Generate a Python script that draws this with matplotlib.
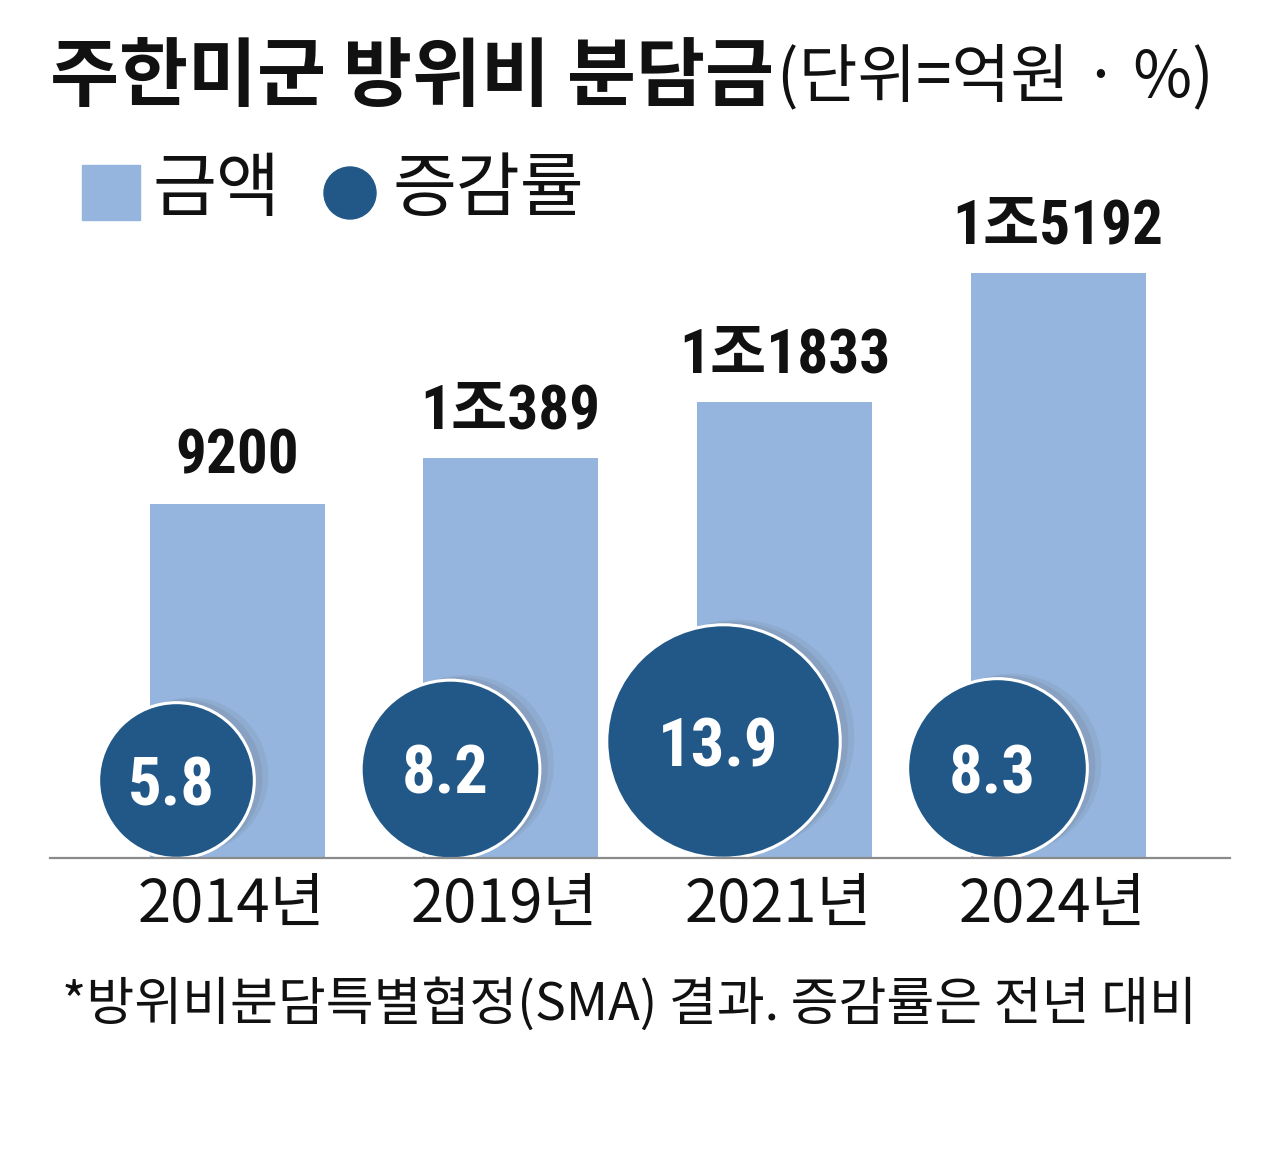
import matplotlib
matplotlib.use("Agg")
import matplotlib.pyplot as plt
from matplotlib import font_manager as fm
from matplotlib.patches import Rectangle, Circle
from matplotlib.transforms import offset_copy

plt.rcParams['font.family'] = ['Noto Sans CJK KR', 'DejaVu Sans']
_names = {f.name for f in fm.fontManager.ttflist}
NUM_FAMILY = (['Roboto Condensed', 'Noto Sans CJK KR']
              if 'Roboto Condensed' in _names else ['Noto Sans CJK KR', 'DejaVu Sans'])
NUM_SCALE = 1.0 if 'Roboto Condensed' in _names else 0.85

years = ["2014년", "2019년", "2021년", "2024년"]
amounts = [9200, 10389, 11833, 15192]
amount_labels = ["9200", "1조389", "1조1833", "1조5192"]
rates = [5.8, 8.2, 13.9, 8.3]

BAR = "#95b5df"
DARK = "#225888"
INK = "#111111"

W, H = 1280, 1154
fig = plt.figure(figsize=(W / 100, H / 100), dpi=100)
fig.patch.set_facecolor("white")

ax_left, ax_right, ax_bottom_px, ax_top_px = 50, 1230, 858, 200
ax = fig.add_axes([ax_left / W, (H - ax_bottom_px) / H,
                   (ax_right - ax_left) / W, (ax_bottom_px - ax_top_px) / H])
ymax = 17090
ax.set_ylim(0, ymax)
spacing = 273.7
x0 = 237
ax.set_xlim((ax_left - x0) / spacing, (ax_right - x0) / spacing)

xs = list(range(len(years)))
ax.bar(xs, amounts, width=175 / spacing, color=BAR, zorder=1)

px_per_unit = (ax_bottom_px - ax_top_px) / ymax
for x, v, lab in zip(xs, amounts, amount_labels):
    ax.text(x, v + 18 / px_per_unit, lab, ha="center", va="bottom",
            fontsize=44 * NUM_SCALE, fontweight="bold", color=INK, zorder=5,
            family=NUM_FAMILY)

# circles for growth rate
for x, r in zip(xs, rates):
    rad = 50 + 4.8 * r  # px
    cx = x - 61 / spacing
    cy = rad / px_per_unit
    d_pt = 2 * rad * 72 / 100
    for dx, dy, a in [(14, 5, 0.25), (8, 3, 0.35)]:
        shadow = offset_copy(ax.transData, fig=fig, x=dx, y=dy, units="dots")
        ax.scatter([cx], [cy], s=d_pt ** 2, color="#7d8ea6", alpha=a,
                   linewidths=0, transform=shadow, zorder=2, clip_on=False)
    ax.scatter([cx], [cy], s=d_pt ** 2, color=DARK, edgecolors="white",
               linewidths=2.2, zorder=3, clip_on=False)
    ax.text(cx - 5 / spacing, cy, f"{r:.1f}", ha="center", va="center_baseline",
            fontsize=48 * NUM_SCALE, fontweight="bold", color="white", zorder=4,
            family=NUM_FAMILY)

for s in ["top", "right", "left"]:
    ax.spines[s].set_visible(False)
ax.spines["bottom"].set_color("#8a8a8a")
ax.spines["bottom"].set_linewidth(1.6)
ax.spines["bottom"].set_zorder(6)
ax.set_yticks([])
ax.set_xticks([x - 6 / spacing for x in xs])
ax.set_xticklabels(years, fontsize=43, color=INK)
ax.tick_params(axis="x", length=0, pad=12)
ax.set_facecolor("none")

# title
t1 = fig.text(50 / W, 1 - 78 / H, "주한미군 방위비 분담금", fontsize=54,
              fontweight="bold", color=INK, ha="left", va="center")
fig.canvas.draw()
bb = t1.get_window_extent(fig.canvas.get_renderer())
fig.text(bb.x1 / W + 0.002, 1 - 78 / H, "(단위=억원 · %)", fontsize=46,
         color=INK, ha="left", va="center")

# legend
fig.add_artist(Rectangle((82 / 100, (H - 220) / 100), 58 / 100, 55 / 100,
                         transform=fig.dpi_scale_trans, color=BAR))
fig.text(152 / W, 1 - 190 / H, "금액", fontsize=50, color=INK,
         ha="left", va="center")
fig.add_artist(Circle((350 / 100, (H - 193) / 100), 26 / 100,
                      transform=fig.dpi_scale_trans, color=DARK))
fig.text(392 / W, 1 - 190 / H, "증감률", fontsize=50, color=INK,
         ha="left", va="center")

# footnote
fig.text(62 / W, 1 - 1005 / H, "*방위비분담특별협정(SMA) 결과. 증감률은 전년 대비",
         fontsize=37.5, color=INK, ha="left", va="center")

fig.savefig("out.png", dpi=100, facecolor="white")
